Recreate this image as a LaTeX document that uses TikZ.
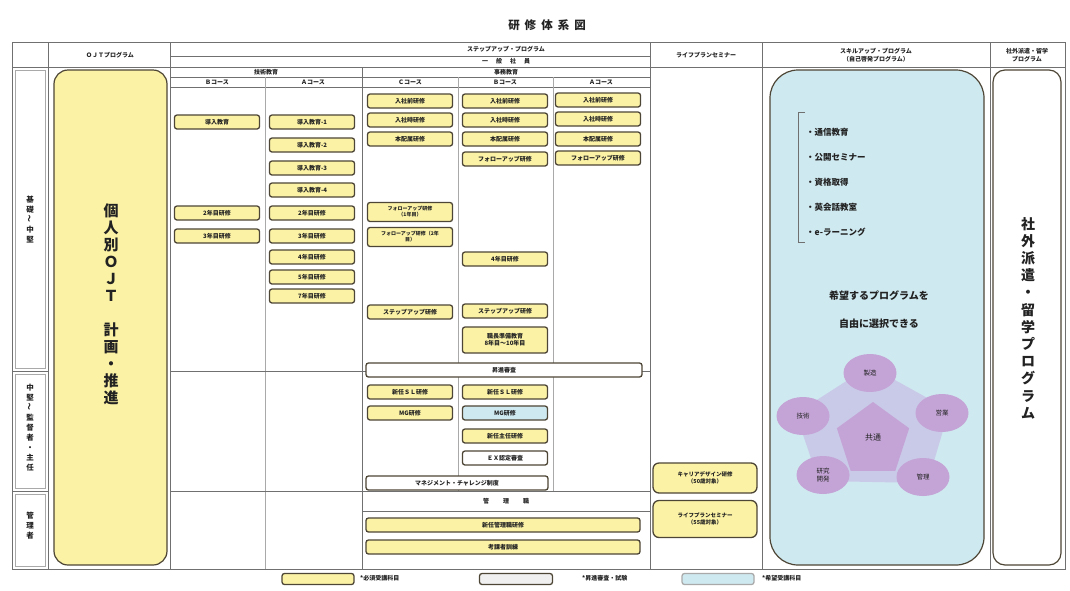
\documentclass[tikz,border=0pt]{standalone}
\usepackage{fontspec}
\setmainfont{Noto Sans CJK JP}
\usetikzlibrary{shapes.geometric}
\definecolor{ylw}{HTML}{FBF2A6}
\definecolor{blu}{HTML}{CFE9F0}
\definecolor{bord}{HTML}{4D4535}
\definecolor{lgray}{HTML}{707070}
\definecolor{purp}{HTML}{C4A4D6}
\definecolor{lav}{HTML}{C9C9E8}
\definecolor{txt}{HTML}{222222}
\begin{document}
\begin{tikzpicture}[x=1pt,y=-1pt,
  tl/.style={draw=lgray, line width=0.9pt},
  fl/.style={draw=lgray!60, line width=0.5pt},
  pbox/.style={draw=bord, line width=1.3pt, rounded corners=2.5pt, fill=ylw, minimum width=85pt, minimum height=14pt, inner sep=0pt, align=center, text=txt, font=\fontsize{6}{7}\selectfont\bfseries},
  wbox/.style={pbox, fill=white},
  bbox/.style={pbox, fill=blu},
  hdr/.style={inner sep=0pt, align=center, text=txt, font=\fontsize{6}{8}\selectfont\bfseries},
  lbl/.style={inner sep=0pt, align=center, text=txt, font=\fontsize{7.5}{10}\selectfont\bfseries},
  pcirc/.style={ellipse, fill=purp, minimum width=53pt, minimum height=38pt, inner sep=0pt, align=center, text=txt, font=\fontsize{6.5}{7.5}\selectfont},
  listitem/.style={anchor=west, inner sep=0pt, text=txt, font=\fontsize{8.5}{10}\selectfont\bfseries},
  bigbox/.style={draw=bord, line width=1.2pt}
]
\useasboundingbox (0,0) rectangle (1070,590);

% title
\node[inner sep=0pt, text=txt, font=\fontsize{11.5}{13}\selectfont\bfseries] (title) at (547,25) {研\hspace{5pt}修\hspace{5pt}体\hspace{5pt}系\hspace{5pt}図};

% table frame
\draw[tl] (12,42) rectangle (1065,569);
\draw[tl] (170,56) -- (650,56);
\draw[tl] (12,67) -- (1065,67);
\draw[tl] (170,77) -- (650,77);
\draw[tl] (170,87) -- (650,87);
\foreach \x in {48,170,650,762,990} \draw[tl] (\x,42) -- (\x,569);
\draw[tl] (362,67) -- (362,569);
\draw[fl] (265,77) -- (265,569);
\draw[fl] (458,77) -- (458,491);
\draw[fl] (553,77) -- (553,491);
\draw[tl] (170,371) -- (650,371);
\draw[tl] (170,491) -- (650,491);
\draw[tl] (362,511) -- (650,511);
\draw[tl] (12,371) -- (48,371);
\draw[tl] (12,491) -- (48,491);
\draw[fl] (15,70) rectangle (45,368);
\draw[fl] (15,374) rectangle (45,488);
\draw[fl] (15,494) rectangle (45,566);

% headers
\node[hdr] (hojt) at (110,55) {ＯＪＴプログラム};
\node[hdr] (hstep) at (506,49) {ステップアップ・プログラム};
\node[hdr] (hippan) at (506,61.5) {一\hspace{8pt}般\hspace{8pt}社\hspace{8pt}員};
\node[hdr] (hgijutsu) at (266,72) {技術教育};
\node[hdr] (hjimu) at (506,72) {事務教育};
\node[hdr] (hk1) at (217,82) {Ｂコース};
\node[hdr] (hk2) at (313,82) {Ａコース};
\node[hdr] (hk3) at (410,82) {Ｃコース};
\node[hdr] (hk4) at (505,82) {Ｂコース};
\node[hdr] (hk5) at (601,82) {Ａコース};
\node[hdr] (hlife) at (706,55) {ライフプランセミナー};
\node[hdr] (hskill) at (876,55) {スキルアップ・プログラム\\（自己啓発プログラム）};
\node[hdr] (hout) at (1027,55) {社外派遣・留学\\プログラム};

% row labels
\node[lbl] (r1) at (30,220) {基\\礎\\\rotatebox{90}{～}\\中\\堅};
\node[lbl] (r2) at (30,428) {中\\堅\\\rotatebox{90}{～}\\監\\督\\者\\・\\主\\任};
\node[lbl] (r3) at (30,526) {管\\理\\者};

% big side boxes
\draw[bigbox, fill=ylw, rounded corners=14pt] (54,70) rectangle (167,565);
\node[inner sep=0pt, align=center, text=txt, font=\fontsize{15}{17}\selectfont\bfseries] (ojt) at (111,304) {個\\人\\別\\Ｏ\\Ｊ\\Ｔ\\[17pt]計\\画\\・\\推\\進};
\draw[bigbox, fill=blu, rounded corners=28pt] (770,70) rectangle (984,565);
\draw[bigbox, fill=white, rounded corners=12pt] (993,70) rectangle (1061,565);
\node[inner sep=0pt, align=center, text=txt, font=\fontsize{14}{17.2}\selectfont\bfseries] (gaibu) at (1028,318) {社\\外\\派\\遣\\・\\留\\学\\プ\\ロ\\グ\\ラ\\ム};

% column 1
\node[pbox] (c1a) at (217,122) {導入教育};
\node[pbox] (c1b) at (217,213) {2年目研修};
\node[pbox] (c1c) at (217,236) {3年目研修};
% column 2
\node[pbox] (c2a) at (312,122) {導入教育-1};
\node[pbox] (c2b) at (312,145) {導入教育-2};
\node[pbox] (c2c) at (312,168) {導入教育-3};
\node[pbox] (c2d) at (312,190) {導入教育-4};
\node[pbox] (c2e) at (312,213) {2年目研修};
\node[pbox] (c2f) at (312,236) {3年目研修};
\node[pbox] (c2g) at (312,257) {4年目研修};
\node[pbox] (c2h) at (312,277) {5年目研修};
\node[pbox] (c2i) at (312,296) {7年目研修};
% column 3
\node[pbox] (c3a) at (410,101) {入社前研修};
\node[pbox] (c3b) at (410,120) {入社時研修};
\node[pbox] (c3c) at (410,139) {本配属研修};
\node[pbox, minimum height=19pt, font=\fontsize{5}{6}\selectfont\bfseries] (c3d) at (410,212) {フォローアップ研修\\（1年目）};
\node[pbox, minimum height=19pt, font=\fontsize{5}{6}\selectfont\bfseries] (c3e) at (410,237) {フォローアップ研修（2年\\目）};
\node[pbox] (c3f) at (410,312) {ステップアップ研修};
% column 4
\node[pbox] (c4a) at (505,101) {入社前研修};
\node[pbox] (c4b) at (505,120) {入社時研修};
\node[pbox] (c4c) at (505,139) {本配属研修};
\node[pbox] (c4d) at (505,159) {フォローアップ研修};
\node[pbox] (c4e) at (505,259) {4年目研修};
\node[pbox] (c4f) at (505,311) {ステップアップ研修};
\node[pbox, minimum height=26pt] (c4g) at (505,340) {職長準備教育\\8年目～10年目};
% column 5
\node[pbox] (c5a) at (598,100) {入社前研修};
\node[pbox] (c5b) at (598,119) {入社時研修};
\node[pbox] (c5c) at (598,139) {本配属研修};
\node[pbox] (c5d) at (598,158) {フォローアップ研修};
% promotion
\node[wbox, minimum width=276pt] (shoshin) at (504,370) {昇進審査};
% row 2
\node[pbox] (c3g) at (410,392) {新任ＳＬ研修};
\node[pbox] (c4h) at (505,392) {新任ＳＬ研修};
\node[pbox] (c3h) at (410,413) {MG研修};
\node[bbox] (c4i) at (505,413) {MG研修};
\node[pbox] (c4j) at (505,436) {新任主任研修};
\node[wbox] (c4k) at (505,458) {ＥＸ認定審査};
\node[wbox, minimum width=182pt] (mgmt) at (457,483) {マネジメント・チャレンジ制度};
% row 3
\node[hdr] (hkanri) at (506,501) {管\hspace{14pt}理\hspace{14pt}職};
\node[pbox, minimum width=274pt] (k1) at (503,525) {新任管理職研修};
\node[pbox, minimum width=274pt] (k2) at (503,547) {考課者訓練};
% life plan
\node[pbox, minimum width=104pt, minimum height=30pt, rounded corners=6pt, font=\fontsize{5.5}{7}\selectfont\bfseries] (lp1) at (705,478) {キャリアデザイン研修\\（50歳対象）};
\node[pbox, minimum width=104pt, minimum height=37pt, rounded corners=6pt, font=\fontsize{5.5}{7}\selectfont\bfseries] (lp2) at (705,519) {ライフプランセミナー\\（55歳対象）};

% skill up contents
\draw[draw=lgray, line width=0.8pt] (805,112) -- (798,112) -- (798,242) -- (805,242);
\node[listitem] (s1) at (806,132) {・通信教育};
\node[listitem] (s2) at (806,157) {・公開セミナー};
\node[listitem] (s3) at (806,182) {・資格取得};
\node[listitem] (s4) at (806,207) {・英会話教室};
\node[listitem] (s5) at (806,232) {・e-ラーニング};
\node[inner sep=0pt, text=txt, font=\fontsize{10}{12}\selectfont\bfseries] (kibo1) at (879,296) {希望するプログラムを};
\node[inner sep=0pt, text=txt, font=\fontsize{10}{12}\selectfont\bfseries] (kibo2) at (879,324) {自由に選択できる};

% pentagon diagram
\coordinate (p1) at (870,373);
\coordinate (p2) at (942,413);
\coordinate (p3) at (923,477);
\coordinate (p4) at (823,475);
\coordinate (p5) at (803,416);
\draw[fill=lav, draw=lav, line width=12pt, line join=round] (p1) -- (p2) -- (p3) -- (p4) -- (p5) -- cycle;
\node[regular polygon, regular polygon sides=5, minimum size=76pt, fill=purp, inner sep=0pt, text=txt, font=\fontsize{8}{9}\selectfont] (kyotsu) at (873,440) {};
\node[inner sep=0pt, text=txt, font=\fontsize{8}{9}\selectfont] (kyotsut) at (873,437) {共通};
\node[pcirc] (seizo) at (p1) {製造};
\node[pcirc] (eigyo) at (p2) {営業};
\node[pcirc] (kanri) at (p3) {管理};
\node[pcirc] (kenkyu) at (p4) {研究\\開発};
\node[pcirc] (gijutsu) at (p5) {技術};

% legend
\node[pbox, minimum width=72pt, minimum height=11pt] (lg1) at (318,579) {};
\node[hdr, anchor=west] (lg1t) at (360,578) {*必須受講科目};
\node[pbox, fill=gray!12, minimum width=73pt, minimum height=11pt] (lg2) at (516,579) {};
\node[hdr, anchor=west] (lg2t) at (582,578) {*昇進審査・試験};
\node[pbox, fill=blu, draw=lgray!60, minimum width=72pt, minimum height=11pt] (lg3) at (718,579) {};
\node[hdr, anchor=west] (lg3t) at (762,578) {*希望受講科目};
\end{tikzpicture}
\end{document}
